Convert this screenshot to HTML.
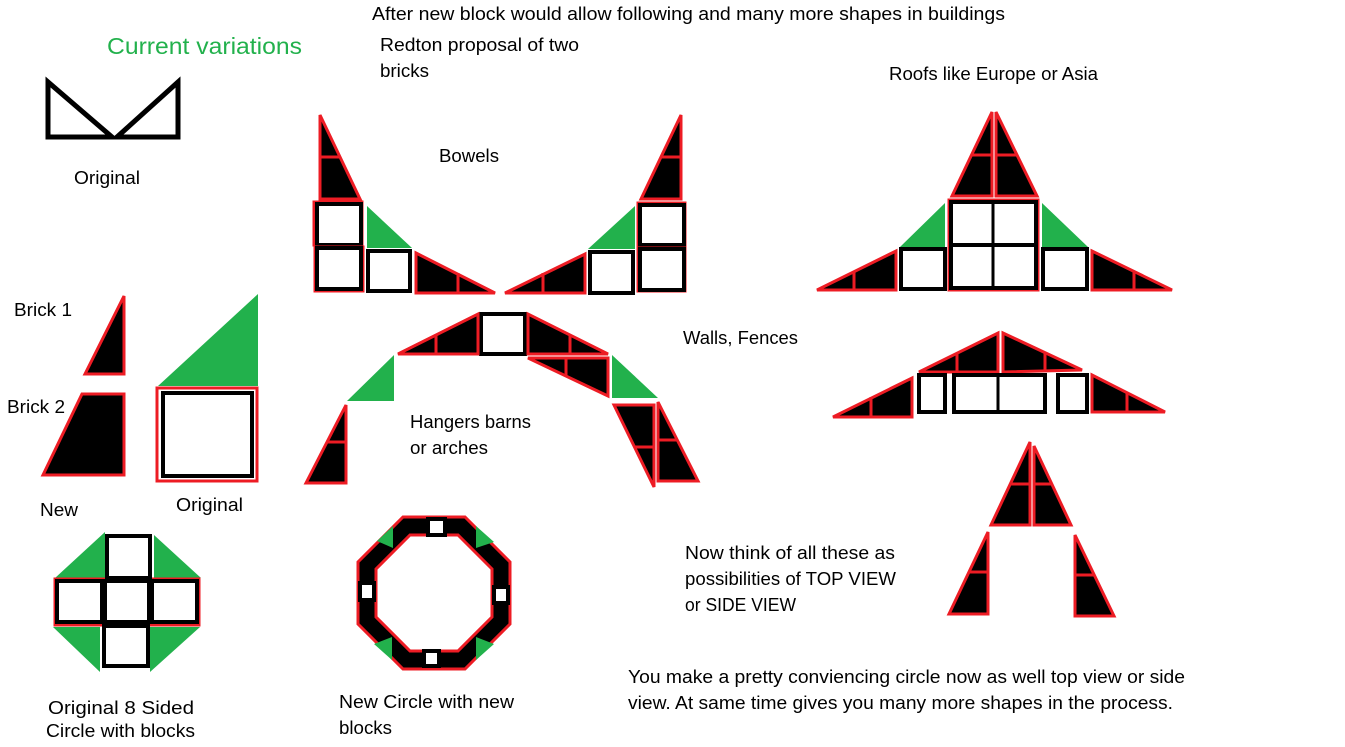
<!DOCTYPE html>
<html><head><meta charset="utf-8"><style>
html,body{margin:0;padding:0;background:#fff;}
svg{display:block}
text{font-family:"Liberation Sans",sans-serif;font-size:18px;fill:#000}
.b{fill:#000;stroke:#ed1c24;stroke-width:3;stroke-linejoin:miter}
.d{stroke:#ed1c24;stroke-width:3}
.w{fill:#fff;stroke:#000;stroke-width:4}
.r{fill:none;stroke:#ed1c24;stroke-width:3}
.g{fill:#22b14c}
</style></head><body>
<svg width="1345" height="747" viewBox="0 0 1345 747" xmlns="http://www.w3.org/2000/svg">
<text x="372" y="20" textLength="633" lengthAdjust="spacingAndGlyphs">After new block would allow following and many more shapes in buildings</text>
<text x="107" y="54" textLength="195" lengthAdjust="spacingAndGlyphs" style="fill:#22b14c;font-size:23px">Current variations</text>
<text x="380" y="51" textLength="199" lengthAdjust="spacingAndGlyphs">Redton proposal of two</text>
<text x="380" y="77" textLength="49" lengthAdjust="spacingAndGlyphs">bricks</text>
<text x="889" y="80" textLength="209" lengthAdjust="spacingAndGlyphs">Roofs like Europe or Asia</text>
<text x="74" y="184" textLength="66" lengthAdjust="spacingAndGlyphs">Original</text>
<text x="439" y="162" textLength="60" lengthAdjust="spacingAndGlyphs">Bowels</text>
<text x="14" y="316" textLength="58" lengthAdjust="spacingAndGlyphs">Brick 1</text>
<text x="7" y="413" textLength="58" lengthAdjust="spacingAndGlyphs">Brick 2</text>
<text x="683" y="344" textLength="115" lengthAdjust="spacingAndGlyphs">Walls, Fences</text>
<text x="410" y="428" textLength="121" lengthAdjust="spacingAndGlyphs">Hangers barns</text>
<text x="410" y="454" textLength="78" lengthAdjust="spacingAndGlyphs">or arches</text>
<text x="40" y="516" textLength="38" lengthAdjust="spacingAndGlyphs">New</text>
<text x="176" y="511" textLength="67" lengthAdjust="spacingAndGlyphs">Original</text>
<text x="685" y="559" textLength="210" lengthAdjust="spacingAndGlyphs">Now think of all these as</text>
<text x="685" y="585" textLength="211" lengthAdjust="spacingAndGlyphs">possibilities of TOP VIEW</text>
<text x="685" y="611" textLength="111" lengthAdjust="spacingAndGlyphs">or SIDE VIEW</text>
<text x="628" y="683" textLength="557" lengthAdjust="spacingAndGlyphs">You make a pretty conviencing circle now as well top view or side</text>
<text x="628" y="709" textLength="545" lengthAdjust="spacingAndGlyphs">view.  At same time gives you many more shapes in the process.</text>
<text x="48" y="714" textLength="146" lengthAdjust="spacingAndGlyphs">Original   8 Sided</text>
<text x="46" y="737" textLength="149" lengthAdjust="spacingAndGlyphs">Circle with blocks</text>
<text x="339" y="708" textLength="175" lengthAdjust="spacingAndGlyphs">New Circle with new</text>
<text x="339" y="734" textLength="53" lengthAdjust="spacingAndGlyphs">blocks</text>

<g fill="none" stroke="#000" stroke-width="5">
<path d="M48,82 L48,137 L112,137 Z"/>
<path d="M178,82 L178,137 L117,137 Z"/>
</g>

<polygon class="b" points="85,374 124,296 124,374"/>
<polygon class="b" points="43,475 82,394 124,394 124,475"/>
<polygon class="g" points="158,386 258,294 258,386"/>
<rect x="157" y="388" width="100" height="93" class="r"/>
<rect x="163" y="393" width="89" height="83" class="w" stroke-width="5"/>

<polygon class="g" points="55,578 105,532 105,578"/>
<polygon class="g" points="154,535 201,578 154,578"/>
<polygon class="g" points="53,627 100,627 100,672"/>
<polygon class="g" points="150,627 200,627 150,672"/>
<rect x="55" y="579" width="144" height="46" class="r"/>
<rect x="107" y="536" width="43" height="42" class="w"/>
<rect x="57" y="581" width="45" height="41" class="w"/>
<rect x="105" y="581" width="44" height="41" class="w"/>
<rect x="152" y="581" width="45" height="41" class="w"/>
<rect x="104" y="626" width="44" height="40" class="w"/>

<!-- ring -->
<path class="b" fill-rule="evenodd" d="M403,517 L465,517 L510,562 L510,624 L465,669 L403,669 L358,624 L358,562 Z M410,535 L458,535 L492,569 L492,617 L458,651 L410,651 L376,617 L376,569 Z"/>
<polygon class="g" points="377,541 393,526 393,548"/>
<polygon class="g" points="476,526 494,542 476,548"/>
<polygon class="g" points="374,644 392,660 392,637"/>
<polygon class="g" points="494,644 476,660 476,637"/>
<rect x="428" y="519" width="17" height="16" class="w" stroke-width="2.5"/>
<rect x="360" y="583" width="14" height="17" class="w" stroke-width="2.5"/>
<rect x="494" y="587" width="14" height="16" class="w" stroke-width="2.5"/>
<rect x="424" y="651" width="15" height="15" class="w" stroke-width="2.5"/>

<polygon class="b" points="320,115 320,199 360,199"/><line x1="320" y1="157" x2="340" y2="157" class="d"/>
<rect x="314" y="202" width="48" height="43" class="r"/><rect x="317" y="204" width="44" height="41" class="w"/>
<rect x="315" y="247" width="48" height="44" class="r"/><rect x="317" y="248" width="44" height="41" class="w"/>
<polygon class="g" points="367,206 412,248 367,248"/>
<rect x="368" y="251" width="42" height="40" class="w" stroke-width="3"/>
<polygon class="b" points="416,253 416,293 495,293"/><line x1="458" y1="273" x2="458" y2="293" class="d"/>
<polygon class="b" points="681,115 681,199 641,199"/><line x1="681" y1="157" x2="660" y2="157" class="d"/>
<rect x="638" y="203" width="47" height="43" class="r"/><rect x="640" y="205" width="44" height="40" class="w"/>
<rect x="638" y="248" width="47" height="43" class="r"/><rect x="640" y="249" width="44" height="41" class="w"/>
<polygon class="g" points="635,206 635,249 588,249"/>
<rect x="590" y="252" width="43" height="41" class="w" stroke-width="3"/>
<polygon class="b" points="585,254 585,293 505,293"/><line x1="543" y1="273" x2="543" y2="293" class="d"/>

<rect x="481" y="314" width="44" height="40" class="w" stroke-width="3"/>
<polygon class="b" points="398,354 478,314 478,354"/><line x1="436" y1="334" x2="436" y2="354" class="d"/>
<polygon class="b" points="528,314 528,354 608,354"/><line x1="570" y1="334" x2="570" y2="354" class="d"/>
<polygon class="b" points="528,358 608,358 608,396"/><line x1="566" y1="358" x2="566" y2="377" class="d"/>
<polygon class="g" points="347,401 394,355 394,401"/>
<polygon class="b" points="306,483 346,405 346,483"/><line x1="326" y1="442" x2="346" y2="442" class="d"/>
<polygon class="g" points="612,355 658,398 612,398"/>
<polygon class="b" points="614,405 654,405 654,487"/><line x1="634" y1="447" x2="654" y2="447" class="d"/>
<polygon class="b" points="658,402 658,481 698,481"/><line x1="658" y1="440" x2="678" y2="440" class="d"/>

<polygon class="b" points="952,196 992,112 992,196"/><line x1="972" y1="155" x2="992" y2="155" class="d"/>
<polygon class="b" points="996,112 996,196 1037,196"/><line x1="996" y1="155" x2="1016" y2="155" class="d"/>
<rect x="949" y="200" width="89" height="90" class="r"/>
<rect x="951" y="202" width="85" height="86" class="w"/>
<line x1="993" y1="202" x2="993" y2="288" stroke="#000" stroke-width="3"/>
<line x1="951" y1="245" x2="1036" y2="245" stroke="#000" stroke-width="4"/>
<polygon class="g" points="900,247 945,203 945,247"/>
<rect x="901" y="249" width="44" height="40" class="w" stroke-width="3"/>
<polygon class="b" points="817,290 896,251 896,290"/><line x1="854" y1="271" x2="854" y2="290" class="d"/>
<polygon class="g" points="1042,203 1088,247 1042,247"/>
<rect x="1043" y="249" width="44" height="40" class="w" stroke-width="3"/>
<polygon class="b" points="1092,251 1092,290 1172,290"/><line x1="1134" y1="271" x2="1134" y2="290" class="d"/>

<polygon class="b" points="919,372 998,333 998,372"/><line x1="957" y1="353" x2="957" y2="372" class="d"/>
<polygon class="b" points="1003,333 1003,372 1082,370"/><line x1="1045" y1="353" x2="1045" y2="371" class="d"/>
<rect x="919" y="375" width="26" height="37" class="w" stroke-width="3"/>
<rect x="954" y="375" width="91" height="37" class="w" stroke-width="3"/>
<line x1="998" y1="375" x2="998" y2="412" stroke="#000" stroke-width="3"/>
<rect x="1058" y="375" width="29" height="37" class="w" stroke-width="3"/>
<polygon class="b" points="833,417 912,378 912,417"/><line x1="871" y1="397" x2="871" y2="417" class="d"/>
<polygon class="b" points="1092,375 1092,412 1165,412"/><line x1="1127" y1="393" x2="1127" y2="412" class="d"/>

<polygon class="b" points="991,525 1030,442 1030,525"/><line x1="1010" y1="484" x2="1030" y2="484" class="d"/>
<polygon class="b" points="1034,446 1034,525 1071,525"/><line x1="1034" y1="484" x2="1052" y2="484" class="d"/>
<polygon class="b" points="949,614 988,532 988,614"/><line x1="968" y1="572" x2="988" y2="572" class="d"/>
<polygon class="b" points="1075,535 1075,616 1114,616"/><line x1="1075" y1="575" x2="1094" y2="575" class="d"/>
</svg>
</body></html>
